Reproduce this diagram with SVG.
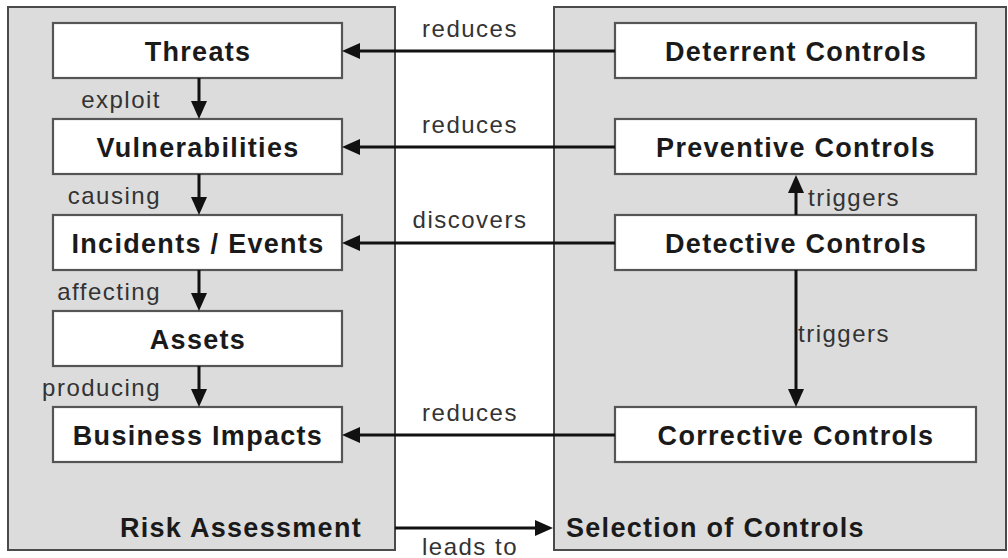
<svg xmlns="http://www.w3.org/2000/svg" width="1008" height="558" viewBox="0 0 1008 558">
  <defs>
    <marker id="ah" markerUnits="userSpaceOnUse" markerWidth="18" markerHeight="16" refX="0" refY="8" orient="auto" overflow="visible">
      <path d="M0,0 L18,8 L0,16 Z" fill="#111"/>
    </marker>
    <style>
      .panel { fill: #dcdcdc; stroke: #4a4a4a; stroke-width: 2; }
      .box { fill: #ffffff; stroke: #555555; stroke-width: 2.2; }
      .node { font-family: "Liberation Sans", Arial, sans-serif; font-size: 27px; font-weight: bold; letter-spacing: 1.3px; fill: #1a1a1a; text-anchor: middle; }
      .title { font-family: "Liberation Sans", Arial, sans-serif; font-size: 27px; font-weight: bold; letter-spacing: 1.3px; fill: #1a1a1a; }
      .lbl { font-family: "Liberation Sans", Arial, sans-serif; font-size: 24px; letter-spacing: 1.5px; fill: #333333; }
      .conn { stroke: #111; stroke-width: 3; fill: none; marker-end: url(#ah); }
    </style>
  </defs>
  <rect x="0" y="0" width="1008" height="558" fill="#ffffff"/>

  <g id="panel-risk">
    <rect class="panel" x="8" y="7" width="387" height="543"/>
    <text class="title" x="362" y="537" text-anchor="end">Risk Assessment</text>
  </g>
  <g id="panel-controls">
    <rect class="panel" x="554" y="7" width="452" height="543"/>
    <text class="title" x="566" y="537">Selection of Controls</text>
  </g>

  <g id="threats">
    <rect class="box" x="53" y="23" width="289" height="55"/>
    <text class="node" x="198" y="61">Threats</text>
  </g>
  <g id="vulnerabilities">
    <rect class="box" x="53" y="119" width="289" height="55"/>
    <text class="node" x="198" y="157">Vulnerabilities</text>
  </g>
  <g id="incidents">
    <rect class="box" x="53" y="215" width="289" height="55"/>
    <text class="node" x="198" y="253">Incidents / Events</text>
  </g>
  <g id="assets">
    <rect class="box" x="53" y="311" width="289" height="55"/>
    <text class="node" x="198" y="349">Assets</text>
  </g>
  <g id="business-impacts">
    <rect class="box" x="53" y="407" width="289" height="55"/>
    <text class="node" x="198" y="445">Business Impacts</text>
  </g>

  <g id="deterrent">
    <rect class="box" x="615" y="23" width="361" height="55"/>
    <text class="node" x="796" y="61">Deterrent Controls</text>
  </g>
  <g id="preventive">
    <rect class="box" x="615" y="119" width="361" height="55"/>
    <text class="node" x="796" y="157">Preventive Controls</text>
  </g>
  <g id="detective">
    <rect class="box" x="615" y="215" width="361" height="55"/>
    <text class="node" x="796" y="253">Detective Controls</text>
  </g>
  <g id="corrective">
    <rect class="box" x="615" y="407" width="361" height="55"/>
    <text class="node" x="796" y="445">Corrective Controls</text>
  </g>

  <g id="connectors">
    <line class="conn" x1="615" y1="51" x2="360" y2="51"/>
    <line class="conn" x1="615" y1="147" x2="360" y2="147"/>
    <line class="conn" x1="615" y1="243" x2="360" y2="243"/>
    <line class="conn" x1="615" y1="435" x2="360" y2="435"/>
    <line class="conn" x1="199" y1="78" x2="199" y2="101"/>
    <line class="conn" x1="199" y1="174" x2="199" y2="197"/>
    <line class="conn" x1="199" y1="270" x2="199" y2="293"/>
    <line class="conn" x1="199" y1="366" x2="199" y2="389"/>
    <line class="conn" x1="796" y1="215" x2="796" y2="193"/>
    <line class="conn" x1="796" y1="270" x2="796" y2="389"/>
    <line class="conn" x1="395" y1="528" x2="535" y2="528"/>

    <text class="lbl" x="470" y="37" text-anchor="middle">reduces</text>
    <text class="lbl" x="470" y="133" text-anchor="middle">reduces</text>
    <text class="lbl" x="470" y="228" text-anchor="middle">discovers</text>
    <text class="lbl" x="470" y="421" text-anchor="middle">reduces</text>
    <text class="lbl" x="161" y="108" text-anchor="end">exploit</text>
    <text class="lbl" x="161" y="204" text-anchor="end">causing</text>
    <text class="lbl" x="161" y="300" text-anchor="end">affecting</text>
    <text class="lbl" x="161" y="396" text-anchor="end">producing</text>
    <text class="lbl" x="808" y="206">triggers</text>
    <text class="lbl" x="798" y="342">triggers</text>
    <text class="lbl" x="470" y="555" text-anchor="middle">leads to</text>
  </g>
</svg>
